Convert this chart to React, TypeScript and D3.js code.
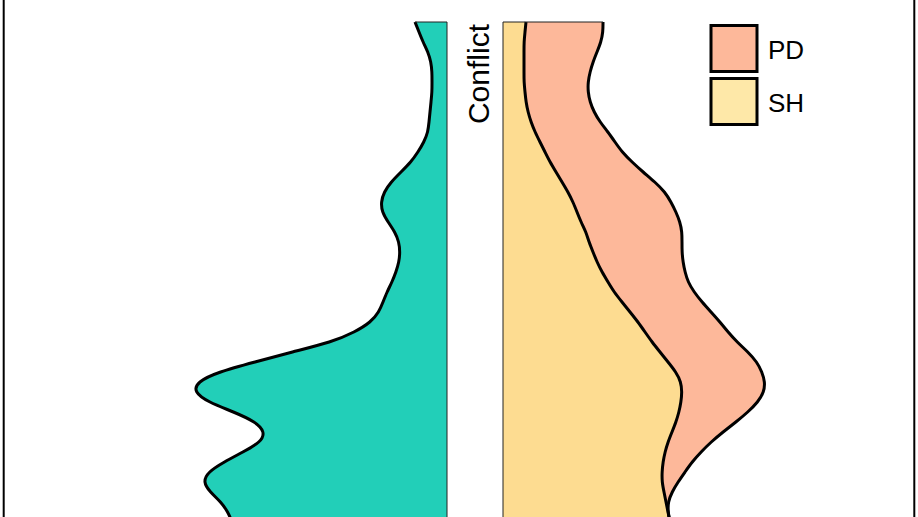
import { useEffect, useRef } from 'react';
import * as d3 from 'd3';

// density estimates sampled top -> bottom (x1000)
const conflictDensity = [
  32, 28, 24, 19, 16, 15, 15, 15, 16, 17, 18, 19, 23, 29, 36, 46, 56, 63, 66, 65,
  59, 52, 48, 47, 48, 51, 55, 60, 64, 68, 76, 92, 115, 155, 192, 229, 250, 253, 239, 213,
  191, 182, 186, 204, 223, 239, 244, 237, 226, 219, 215,
];
const shDensity = [
  23, 22, 21, 21, 21, 21, 21, 22, 23, 25, 28, 32, 37, 42, 47, 53, 59, 65, 70, 74,
  78, 83, 86, 90, 94, 99, 105, 111, 119, 127, 135, 142, 149, 157, 165, 173, 178, 179, 178, 176,
  173, 169, 165, 162, 160, 159, 159, 161, 163, 165, 167,
];
const pdDensity = [
  77, 78, 77, 73, 69, 66, 64, 63, 64, 66, 69, 73, 75, 77, 82, 87, 93, 97, 98, 99,
  99, 96, 93, 89, 86, 83, 80, 80, 80, 81, 82, 83, 85, 88, 89, 86, 84, 82, 77, 69,
  60, 51, 43, 36, 29, 23, 16, 8, 2, 0, 0,
];

const legendKeys = ['PD', 'SH'];
const legendFills = ['#FDB89A', '#FEE8A8'];
const panelTitle = 'Conflict';

const W = 918;
const H = 517;

export default function App() {
  const svgRef = useRef<SVGSVGElement>(null);

  useEffect(() => {
    if (!svgRef.current) return;
    const svg = d3.select(svgRef.current);
    svg.selectAll('*').remove();

    const top = 22;
    const leftBase = 447;
    const rightBase = 503;

    const levels = d3.range(conflictDensity.length);
    const y = d3
      .scaleLinear()
      .domain([0, levels.length - 1])
      .range([top, top + 10 * (levels.length - 1)]);
    const x = d3.scaleLinear().domain([0, 300]).range([0, 300]);
    const curve = d3.curveBasis;

    // frame sides
    svg.append('line').attr('x1', 3.7).attr('x2', 3.7).attr('y1', 0).attr('y2', H)
      .attr('stroke', '#000').attr('stroke-width', 2);
    svg.append('line').attr('x1', 914.3).attr('x2', 914.3).attr('y1', 0).attr('y2', H)
      .attr('stroke', '#000').attr('stroke-width', 2);

    // left: conflict density, mirrored
    const tealArea = d3
      .area<number>()
      .y((i) => y(i))
      .x0(leftBase)
      .x1((i) => leftBase - x(conflictDensity[i]))
      .curve(curve);
    svg.append('path').datum(levels).attr('d', tealArea as never).attr('fill', '#22CFB8');

    const tealLine = d3
      .line<number>()
      .y((i) => y(i))
      .x((i) => leftBase - x(conflictDensity[i]))
      .curve(curve);
    svg.append('path').datum(levels).attr('d', tealLine as never)
      .attr('fill', 'none').attr('stroke', '#000').attr('stroke-width', 3);
    svg.append('line').attr('x1', leftBase).attr('x2', leftBase).attr('y1', top).attr('y2', H)
      .attr('stroke', '#222').attr('stroke-width', 1);
    svg.append('line').attr('x1', leftBase - x(conflictDensity[0])).attr('x2', leftBase)
      .attr('y1', top).attr('y2', top).attr('stroke', '#222').attr('stroke-width', 1);

    // right: stacked SH + PD
    const shEdge = (i: number) => rightBase + x(shDensity[i]);
    const pdEdge = (i: number) => rightBase + x(shDensity[i] + pdDensity[i]);

    const shArea = d3.area<number>().y((i) => y(i)).x0(rightBase).x1(shEdge).curve(curve);
    const pdArea = d3.area<number>().y((i) => y(i)).x0(shEdge).x1(pdEdge).curve(curve);
    svg.append('path').datum(levels).attr('d', pdArea as never).attr('fill', '#FDB89A');
    svg.append('path').datum(levels).attr('d', shArea as never).attr('fill', '#FDDC91');

    const shLine = d3.line<number>().y((i) => y(i)).x(shEdge).curve(curve);
    const pdLine = d3.line<number>().y((i) => y(i)).x(pdEdge).curve(curve);
    svg.append('path').datum(levels).attr('d', pdLine as never)
      .attr('fill', 'none').attr('stroke', '#000').attr('stroke-width', 3);
    svg.append('path').datum(levels).attr('d', shLine as never)
      .attr('fill', 'none').attr('stroke', '#000').attr('stroke-width', 3);
    svg.append('line').attr('x1', rightBase).attr('x2', rightBase).attr('y1', top).attr('y2', H)
      .attr('stroke', '#222').attr('stroke-width', 1);
    svg.append('line').attr('x1', rightBase).attr('x2', pdEdge(0))
      .attr('y1', top).attr('y2', top).attr('stroke', '#222').attr('stroke-width', 1);

    // strip label
    svg.append('text')
      .attr('transform', `translate(489,24) rotate(-90)`)
      .attr('text-anchor', 'end')
      .attr('font-family', 'Liberation Sans, Arial, sans-serif')
      .attr('font-size', 30)
      .attr('fill', '#000')
      .text(panelTitle);

    // legend
    const lg = svg.append('g').attr('transform', 'translate(711,25.5)');
    legendKeys.forEach((k, i) => {
      lg.append('rect')
        .attr('x', 0).attr('y', i * 53)
        .attr('width', 46).attr('height', 46)
        .attr('fill', legendFills[i])
        .attr('stroke', '#000').attr('stroke-width', 3);
      lg.append('text')
        .attr('x', 57).attr('y', i * 53 + 24)
        .attr('dy', '0.36em')
        .attr('font-family', 'Liberation Sans, Arial, sans-serif')
        .attr('font-size', 26)
        .attr('fill', '#000')
        .text(k);
    });
  }, []);

  return (
    <div style={{ position: 'fixed', left: 0, top: 0, width: W, height: H, background: '#fff' }}>
      <svg ref={svgRef} width={W} height={H} style={{ display: 'block' }} />
    </div>
  );
}
